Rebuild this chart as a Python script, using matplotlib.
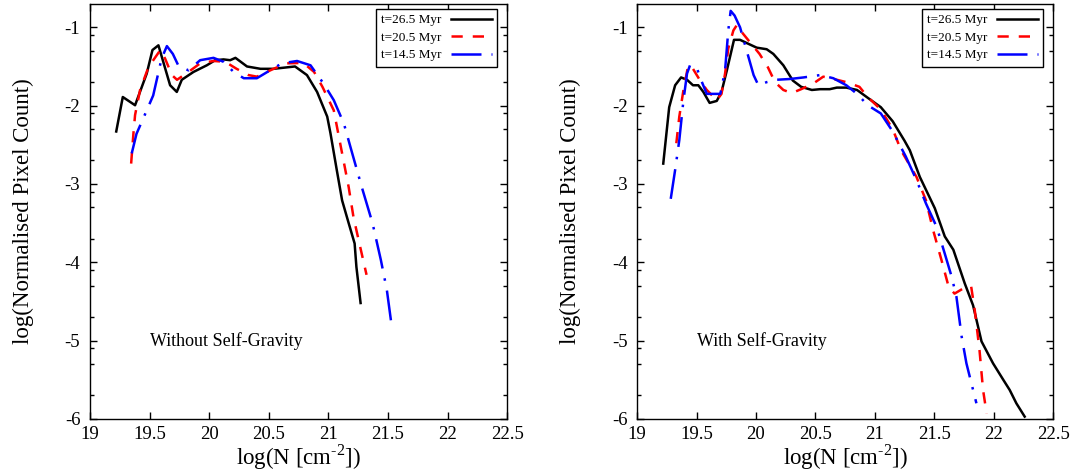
import matplotlib
matplotlib.use('Agg')
import matplotlib.pyplot as plt
from matplotlib.ticker import FixedLocator, FormatStrFormatter

plt.rcParams['font.family'] = ['Liberation Serif', 'DejaVu Serif']
plt.rcParams['mathtext.fontset'] = 'custom'
plt.rcParams['mathtext.rm'] = 'Liberation Serif'
plt.rcParams['axes.unicode_minus'] = False

# --- Data ---
labels = ['t=26.5 Myr', 't=20.5 Myr', 't=14.5 Myr']

# Left panel: without self-gravity
nog_265_x = [19.22, 19.275, 19.378, 19.476, 19.524, 19.574, 19.672, 19.728, 19.77, 19.868,
             19.98, 20.05, 20.12, 20.176, 20.22, 20.317, 20.43, 20.54, 20.72, 20.82,
             20.905, 20.99, 21.017, 21.07, 21.115, 21.17, 21.22, 21.235, 21.27]
nog_265_y = [-2.33, -1.89, -1.995, -1.59, -1.29, -1.23, -1.74, -1.825, -1.67, -1.57,
             -1.485, -1.42, -1.41, -1.42, -1.39, -1.50, -1.53, -1.53, -1.50, -1.61,
             -1.825, -2.14, -2.35, -2.82, -3.21, -3.50, -3.76, -4.06, -4.52]

nog_205_x = [19.345, 19.364, 19.378, 19.42, 19.49, 19.59, 19.63, 19.687, 19.73, 19.826,
             19.924, 20.036, 20.134, 20.23, 20.33, 20.40, 20.54, 20.65, 20.79, 20.88,
             20.95, 21.045, 21.115, 21.17, 21.21, 21.26, 21.32]
nog_205_y = [-2.74, -2.36, -2.12, -1.80, -1.51, -1.29, -1.40, -1.61, -1.67, -1.57,
             -1.46, -1.43, -1.44, -1.53, -1.61, -1.63, -1.53, -1.46, -1.455, -1.57,
             -1.76, -2.06, -2.61, -3.04, -3.42, -3.76, -4.16]

nog_145_x = [19.35, 19.39, 19.476, 19.53, 19.566, 19.60, 19.645, 19.695, 19.74, 19.826,
             19.924, 20.036, 20.12, 20.205, 20.29, 20.40, 20.51, 20.61, 20.737, 20.85,
             20.96, 21.045, 21.13, 21.2, 21.28, 21.37, 21.44, 21.49, 21.535]
nog_145_y = [-2.61, -2.36, -2.06, -1.87, -1.63, -1.40, -1.24, -1.34, -1.485, -1.55,
             -1.42, -1.39, -1.44, -1.57, -1.65, -1.65, -1.55, -1.46, -1.43, -1.485,
             -1.72, -1.93, -2.23, -2.61, -3.04, -3.50, -3.97, -4.35, -4.86]

# Right panel: with self-gravity
sg_265_x = [19.22, 19.27, 19.32, 19.37, 19.42, 19.47, 19.515, 19.557, 19.61, 19.67,
            19.71, 19.755, 19.815, 19.866, 19.935, 20.006, 20.09, 20.146, 20.23, 20.31,
            20.38, 20.47, 20.54, 20.62, 20.68, 20.76, 20.85, 20.94, 21.05, 21.15,
            21.25, 21.294, 21.378, 21.504, 21.588, 21.66, 21.756, 21.826, 21.897, 21.994,
            22.08, 22.134, 22.19, 22.26]
sg_265_y = [-2.74, -2.02, -1.74, -1.64, -1.67, -1.74, -1.74, -1.825, -1.965, -1.94,
            -1.825, -1.55, -1.16, -1.16, -1.21, -1.26, -1.28, -1.34, -1.485, -1.68,
            -1.76, -1.80, -1.79, -1.79, -1.77, -1.77, -1.80, -1.90, -2.02, -2.2,
            -2.45, -2.57, -2.91, -3.31, -3.67, -3.84, -4.27, -4.55, -5.01, -5.29,
            -5.50, -5.63, -5.80, -5.97]

sg_205_x = [19.33, 19.355, 19.39, 19.43, 19.47, 19.53, 19.586, 19.67, 19.71, 19.74,
            19.767, 19.81, 19.84, 19.89, 19.96, 20.03, 20.10, 20.16, 20.23, 20.30,
            20.38, 20.48, 20.566, 20.68, 20.76, 20.87, 20.94, 21.05, 21.15, 21.22,
            21.35, 21.43, 21.49, 21.56, 21.62, 21.67, 21.77, 21.81, 21.84, 21.88,
            21.91, 21.94]
sg_205_y = [-2.48, -2.14, -1.80, -1.485, -1.53, -1.68, -1.80, -1.93, -1.85, -1.59,
            -1.27, -1.04, -0.97, -1.08, -1.21, -1.34, -1.51, -1.70, -1.80, -1.84,
            -1.79, -1.72, -1.63, -1.67, -1.70, -1.76, -1.89, -2.05, -2.3, -2.57,
            -2.91, -3.21, -3.59, -3.97, -4.31, -4.40, -4.31, -4.31, -4.61, -5.12,
            -5.63, -5.93]

sg_145_x = [19.283, 19.32, 19.355, 19.39, 19.42, 19.445, 19.50, 19.54, 19.586, 19.64,
            19.70, 19.74, 19.767, 19.787, 19.82, 19.866, 19.92, 19.98, 20.02, 20.09,
            20.17, 20.286, 20.40, 20.54, 20.65, 20.76, 20.85, 20.94, 21.05, 21.15,
            21.26, 21.35, 21.43, 21.52, 21.588, 21.645, 21.686, 21.73, 21.77, 21.826,
            21.854]
sg_145_y = [-3.19, -2.82, -2.44, -1.93, -1.59, -1.485, -1.51, -1.68, -1.85, -1.85,
            -1.85, -1.55, -1.04, -0.79, -0.85, -1.0, -1.29, -1.61, -1.74, -1.70,
            -1.67, -1.66, -1.64, -1.61, -1.65, -1.74, -1.85, -1.995, -2.1, -2.33,
            -2.65, -2.95, -3.25, -3.55, -3.89, -4.18, -4.44, -4.95, -5.29, -5.63,
            -5.80]

x_ticks = [19, 19.5, 20, 20.5, 21, 21.5, 22, 22.5]
y_ticks = [-6, -5, -4, -3, -2, -1]
y_minor = [-k - d for k in range(1, 6) for d in (0.1, 0.3, 0.7)]

panel_titles = ['Without Self-Gravity', 'With Self-Gravity']


def style_axes(ax):
    ax.set_xlim(19, 22.5)
    ax.set_ylim(-6, -0.7)
    ax.xaxis.set_major_locator(FixedLocator(x_ticks))
    ax.xaxis.set_major_formatter(FormatStrFormatter('%g'))
    ax.yaxis.set_major_locator(FixedLocator(y_ticks))
    ax.yaxis.set_minor_locator(FixedLocator(y_minor))
    ax.tick_params(which='both', direction='in', top=True, right=True, width=1,
                   labelsize=13.5)
    ax.tick_params(which='major', length=5)
    ax.tick_params(which='minor', length=3)
    ax.tick_params(axis='y', pad=7)
    ax.tick_params(axis='x', pad=5)
    for sp in ax.spines.values():
        sp.set_linewidth(1.0)
    ax.set_xlabel(r'log(N [cm$^{\text{-2}}$])', fontsize=16.5, labelpad=0)
    ax.set_ylabel('log(Normalised Pixel Count)', fontsize=16.5)
    ax.yaxis.set_label_coords(-0.135, 0.5)


def draw_panel(ax, series, title):
    styles = [
        dict(color='black', linestyle='-'),
        dict(color='red', linestyle=(0, (4.5, 4.0))),
        dict(color='blue', linestyle=(0, (12, 4, 1, 4))),
    ]
    for (xs, ys), lab, st in zip(series, labels, styles):
        ax.plot(xs, ys, lw=1.8, label=lab, **st)
    ax.text(19.5, -5.0, title, fontsize=13, ha='left', va='center')
    leg = ax.legend(loc='upper right', bbox_to_anchor=(0.976, 0.988), borderaxespad=0,
                    fontsize=9.5, markerfirst=False, handlelength=3.1, handletextpad=0.7,
                    labelspacing=0.4, fancybox=False, framealpha=1, borderpad=0.4)
    leg.get_frame().set_edgecolor('black')
    leg.get_frame().set_linewidth(1.0)
    style_axes(ax)


fig = plt.figure(figsize=(10.78, 4.75), dpi=100)
ax1 = fig.add_axes([0.0835, 0.118, 0.387, 0.874])
ax2 = fig.add_axes([0.591, 0.118, 0.386, 0.874])

draw_panel(ax1, [(nog_265_x, nog_265_y), (nog_205_x, nog_205_y), (nog_145_x, nog_145_y)],
           panel_titles[0])
draw_panel(ax2, [(sg_265_x, sg_265_y), (sg_205_x, sg_205_y), (sg_145_x, sg_145_y)],
           panel_titles[1])

fig.savefig('out.png', dpi=100)
